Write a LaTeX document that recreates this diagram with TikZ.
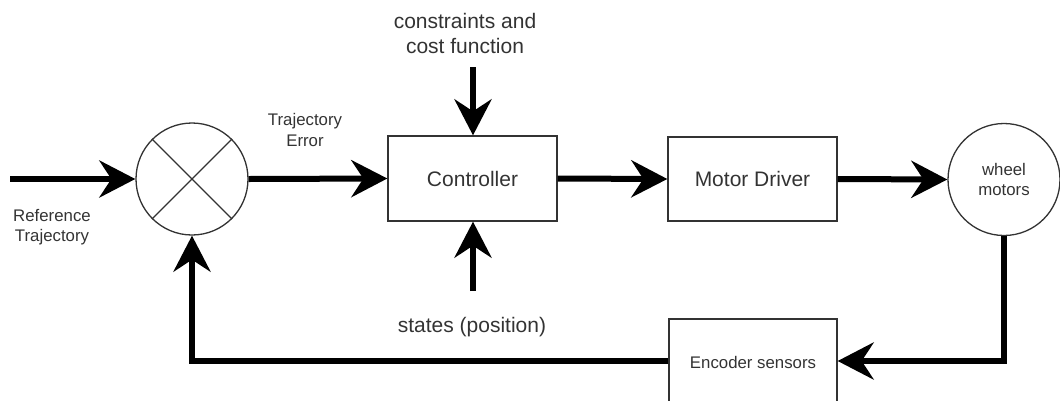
\documentclass[tikz,border=0pt]{standalone}
\usepackage{fontspec}
\setmainfont{Liberation Sans}
\usetikzlibrary{arrows.meta}
\definecolor{ink}{HTML}{333333}
\tikzset{
  flow/.style={line width=6pt, line join=miter, -{Stealth[length=36pt, width=37pt, inset=12pt]}},
  blockbox/.style={draw=ink, line width=1.3pt, rectangle, inner sep=0pt, text=ink},
  roundbox/.style={draw=ink, line width=1.3pt, circle, minimum size=112pt, inner sep=0pt, text=ink},
  bigtxt/.style={font=\fontsize{21}{25}\selectfont, text=ink, align=center},
  smalltxt/.style={font=\fontsize{16.8}{20.5}\selectfont, text=ink, align=center},
}
\begin{document}
\begin{tikzpicture}[x=1pt, y=-1pt]
  \useasboundingbox (0,0) rectangle (1060,400);

  % summing junction
  \node[roundbox] (sum) at (192,179) {};
  \draw[ink, line width=1.3pt] (sum.45) -- (sum.225) (sum.135) -- (sum.315);

  % blocks
  \node[blockbox, bigtxt, minimum width=169pt, minimum height=85pt] (ctrl) at (472.5,178.5) {Controller};
  \node[blockbox, bigtxt, minimum width=169pt, minimum height=84pt] (drv) at (752.5,179) {Motor Driver};
  \node[blockbox, smalltxt, minimum width=168pt, minimum height=86pt] (enc) at (753,362) {Encoder sensors};
  \node[roundbox, smalltxt, font=\fontsize{16.8}{19.5}\selectfont] (wm) at (1004,179.5) {wheel\\motors};

  % labels
  \node[smalltxt] (reflbl) at (52,227) {Reference\\Trajectory};
  \node[smalltxt] (errlbl) at (305,130) {Trajectory\\Error};
  \node[bigtxt] (conslbl) at (465,33) {constraints and\\cost function};
  \node[bigtxt] (statelbl) at (472,327) {states (position)};

  % free ends of the inputs
  \coordinate (refin) at (10,179);
  \coordinate (consin) at (473,67);
  \coordinate (statein) at (473,291);
  \coordinate (fbturn) at (1004,361);

  % signal flow
  \draw[flow] (refin) -- (sum.west);
  \draw[flow] (sum.east) -- (ctrl.west);
  \draw[flow] (consin) -- (consin |- ctrl.north);
  \draw[flow] (statein) -- (statein |- ctrl.south);
  \draw[flow] (ctrl.east) -- (drv.west);
  \draw[flow] (drv.east) -- (wm.west);
  \draw[flow] (wm.south) -- (fbturn) -- (fbturn -| enc.east);
  \draw[flow] (fbturn -| enc.west) -| (sum.south);
\end{tikzpicture}
\end{document}
